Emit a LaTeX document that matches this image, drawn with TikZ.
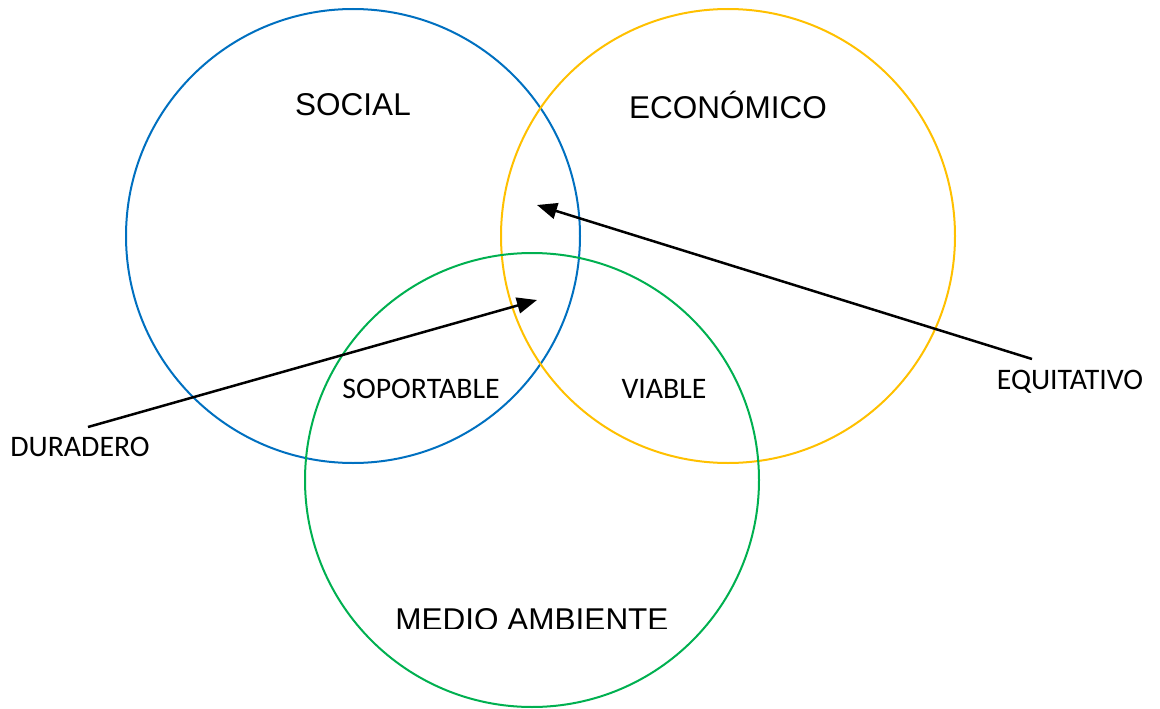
\documentclass[tikz,border=0pt]{standalone}
\usepackage{fontspec}
\setmainfont{Liberation Sans}
\newfontfamily\calibri{Carlito}
\usetikzlibrary{arrows.meta}
\definecolor{socialblue}{HTML}{0070C0}
\definecolor{ecoyellow}{HTML}{FFC000}
\definecolor{envgreen}{HTML}{00B050}
\begin{document}
\begin{tikzpicture}[x=1pt,y=-1pt]
\tikzstyle{every node}+=[inner sep=0pt]
\tikzstyle{ring}=[circle,draw,line width=2pt,minimum size=454pt]
\tikzstyle{bigtext}=[font=\fontsize{31.5}{36}\selectfont]
\tikzstyle{smalltext}=[font=\calibri\fontsize{29.8}{34}\selectfont]
\tikzstyle{pointer}=[line width=2.5pt,-{Triangle[length=20pt,width=16pt]}]
\useasboundingbox (0,0) rectangle (1160,709);
% the three spheres
\node [ring,socialblue] (social) at (353,236) {};
\node [ring,ecoyellow] (economico) at (728,236) {};
\node [ring,envgreen] (ambiente) at (532,480) {};
\node [bigtext] (socialtxt) at (353,105) {SOCIAL};
\node [bigtext] (ecotxt) at (728,105) {ECONÓMICO};
\begin{scope}
\clip (0,0) rectangle (1160,628);
\node [bigtext] (ambtxt) at (532,620) {MEDIO AMBIENTE};
\end{scope}
% overlaps
\node [smalltext] (soportable) at (421,389) {SOPORTABLE};
\node [smalltext] (viable) at (664,389) {VIABLE};
% outside labels and arrows
\node [smalltext] (duradero) at (80,447) {DURADERO};
\node [smalltext] (equitativo) at (1070,382) {EQUITATIVO};
\coordinate (dur-start) at (88,427);
\coordinate (dur-tip) at (537,300);
\coordinate (equ-start) at (1032,359);
\coordinate (equ-tip) at (537,205);
\draw [pointer] (dur-start) -- (dur-tip);
\draw [pointer] (equ-start) -- (equ-tip);
\end{tikzpicture}
\end{document}
